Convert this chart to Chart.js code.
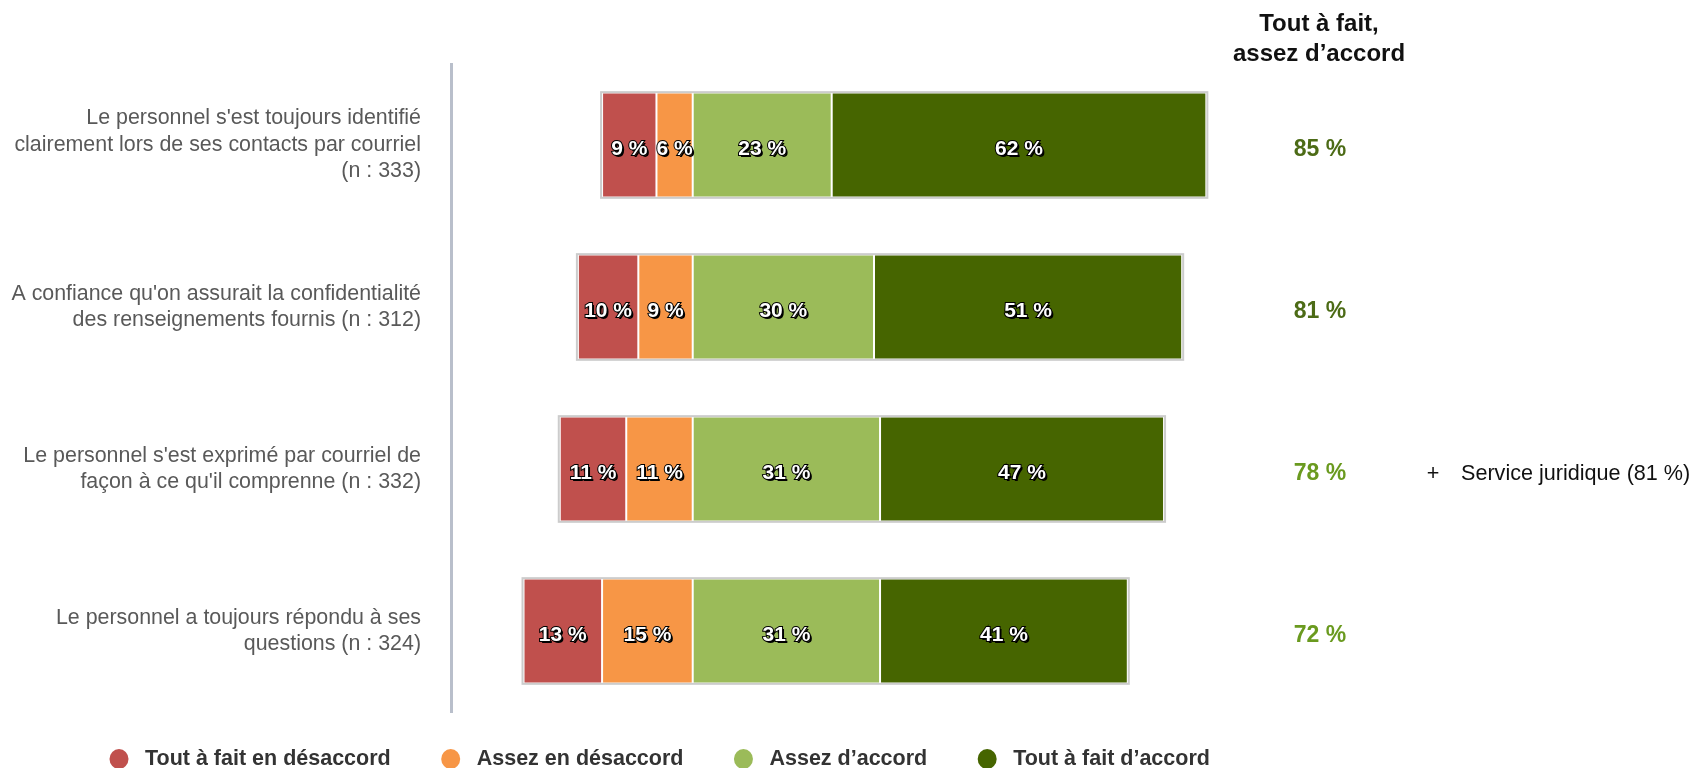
<!DOCTYPE html>
<html>
<head>
    <title>Satisfaction - communications par courriel</title>
    <script src="https://cdn.jsdelivr.net/npm/chart.js@4.4.1/dist/chart.umd.min.js"></script>
    <style>
        body {
            margin: 0;
            background: #fff;
        }
        #chart {
            display: block;
        }
    </style>
</head>
<body>
    <canvas id="chart" width="1691" height="768"></canvas>

    <script>
        // Statements (one line per array entry)
        const categories = [
            ["Le personnel s'est toujours identifié", "clairement lors de ses contacts par courriel", "(n : 333)"],
            ["A confiance qu'on assurait la confidentialité", "des renseignements fournis (n : 312)"],
            ["Le personnel s'est exprimé par courriel de", "façon à ce qu'il comprenne (n : 332)"],
            ["Le personnel a toujours répondu à ses", "questions (n : 324)"]
        ];

        const seriesLabels = ['Tout à fait en désaccord', 'Assez en désaccord', 'Assez d’accord', 'Tout à fait d’accord'];

        // Percentages per statement
        const toutDesaccord = [9, 10, 11, 13];
        const assezDesaccord = [6, 9, 11, 15];
        const assezAccord = [23, 30, 31, 31];
        const toutAccord = [62, 51, 47, 41];

        const notes = ['', '', 'Service juridique (81 %)', ''];

        const colors = ['#c0504d', '#f79646', '#9bbb59', '#466500'];
        const totalColors = ['#4c6b16', '#4c6b16', '#6a9a1f', '#6a9a1f'];
        const FONT = "'Liberation Sans', Arial, sans-serif";

        // disagreement goes left of zero; order puts "assez" next to the axis
        const series = [
            { values: toutDesaccord, sign: -1, order: 2 },
            { values: assezDesaccord, sign: -1, order: 1 },
            { values: assezAccord, sign: 1, order: 3 },
            { values: toutAccord, sign: 1, order: 4 }
        ];

        const overlay = {
            id: 'overlay',
            afterDatasetsDraw(chart) {
                const ctx = chart.ctx;
                const metas = chart.getSortedVisibleDatasetMetas();
                ctx.save();

                // light frame around each stacked bar
                categories.forEach((c, i) => {
                    let l = Infinity, r = -Infinity, t = 0, b = 0;
                    metas.forEach(m => {
                        const p = m.data[i].getProps(['x', 'base', 'y', 'height'], true);
                        l = Math.min(l, p.x, p.base);
                        r = Math.max(r, p.x, p.base);
                        t = p.y - p.height / 2;
                        b = p.y + p.height / 2;
                    });
                    ctx.strokeStyle = '#cccccc';
                    ctx.lineWidth = 2;
                    ctx.strokeRect(l - 1, t - 1, r - l + 2, b - t + 2);
                });

                // percentage inside each segment
                ctx.font = 'bold 21px ' + FONT;
                ctx.textAlign = 'center';
                ctx.textBaseline = 'middle';
                metas.forEach(m => {
                    const ds = chart.data.datasets[m.index];
                    m.data.forEach((bar, i) => {
                        const txt = Math.abs(ds.data[i]) + ' %';
                        const p = bar.getProps(['x', 'base', 'y'], true);
                        const cx = (p.x + p.base) / 2;
                        const cy = p.y + 4;
                        ctx.fillStyle = '#000';
                        ctx.fillText(txt, cx + 2, cy + 2);
                        ctx.strokeStyle = '#000';
                        ctx.lineWidth = 2;
                        ctx.strokeText(txt, cx, cy);
                        ctx.fillStyle = '#fff';
                        ctx.fillText(txt, cx, cy);
                    });
                });
                ctx.restore();
            },
            afterDraw(chart) {
                const ctx = chart.ctx;
                const yScale = chart.scales.y;
                ctx.save();

                // header of the totals column
                ctx.fillStyle = '#111';
                ctx.font = 'bold 24px ' + FONT;
                ctx.textAlign = 'center';
                ctx.textBaseline = 'middle';
                ctx.fillText('Tout à fait,', 1319, 24);
                ctx.fillText('assez d’accord', 1319, 54);

                categories.forEach((c, i) => {
                    const y = yScale.getPixelForValue(i) + 5;
                    ctx.font = 'bold 23px ' + FONT;
                    ctx.textAlign = 'center';
                    ctx.fillStyle = totalColors[i];
                    ctx.fillText((assezAccord[i] + toutAccord[i]) + ' %', 1320, y);
                    if (notes[i]) {
                        ctx.font = '21.6px ' + FONT;
                        ctx.fillStyle = '#111';
                        ctx.fillText('+', 1433, y);
                        ctx.textAlign = 'left';
                        ctx.fillText(notes[i], 1461, y);
                    }
                });

                // legend
                let x = 119;
                const ly = 759;
                ctx.font = 'bold 21.5px ' + FONT;
                ctx.textAlign = 'left';
                seriesLabels.forEach((lab, i) => {
                    ctx.fillStyle = colors[i];
                    ctx.beginPath();
                    ctx.ellipse(x, ly, 9.5, 10, 0, 0, Math.PI * 2);
                    ctx.fill();
                    ctx.fillStyle = '#333';
                    ctx.fillText(lab, x + 26, ly);
                    x += 26 + ctx.measureText(lab).width + 60;
                });
                ctx.restore();
            }
        };

        new Chart(document.getElementById('chart'), {
            type: 'bar',
            data: {
                labels: categories,
                datasets: series.map((s, i) => ({
                    label: seriesLabels[i],
                    data: s.values.map(v => v * s.sign),
                    order: s.order,
                    backgroundColor: colors[i],
                    borderColor: '#ffffff',
                    borderWidth: { top: 0, bottom: 0, left: 1, right: 1 },
                    borderSkipped: false,
                    categoryPercentage: 1,
                    barPercentage: 0.64
                }))
            },
            options: {
                indexAxis: 'y',
                responsive: false,
                animation: false,
                layout: {
                    padding: { top: 64, bottom: 56, left: 0, right: 394 }
                },
                plugins: {
                    legend: { display: false },
                    tooltip: { enabled: false }
                },
                scales: {
                    x: {
                        stacked: true,
                        display: false,
                        min: -40,
                        max: 100
                    },
                    y: {
                        stacked: true,
                        grid: { display: false },
                        border: { display: true, color: '#b9bfcb', width: 3 },
                        afterFit(scale) {
                            scale.width = 451;
                            scale.paddingTop = 0;
                            scale.paddingBottom = 0;
                        },
                        ticks: {
                            padding: 22,
                            color: '#595959',
                            font: { family: FONT, size: 21.4, lineHeight: 1.24 }
                        }
                    }
                }
            },
            plugins: [overlay]
        });
    </script>
</body>
</html>
